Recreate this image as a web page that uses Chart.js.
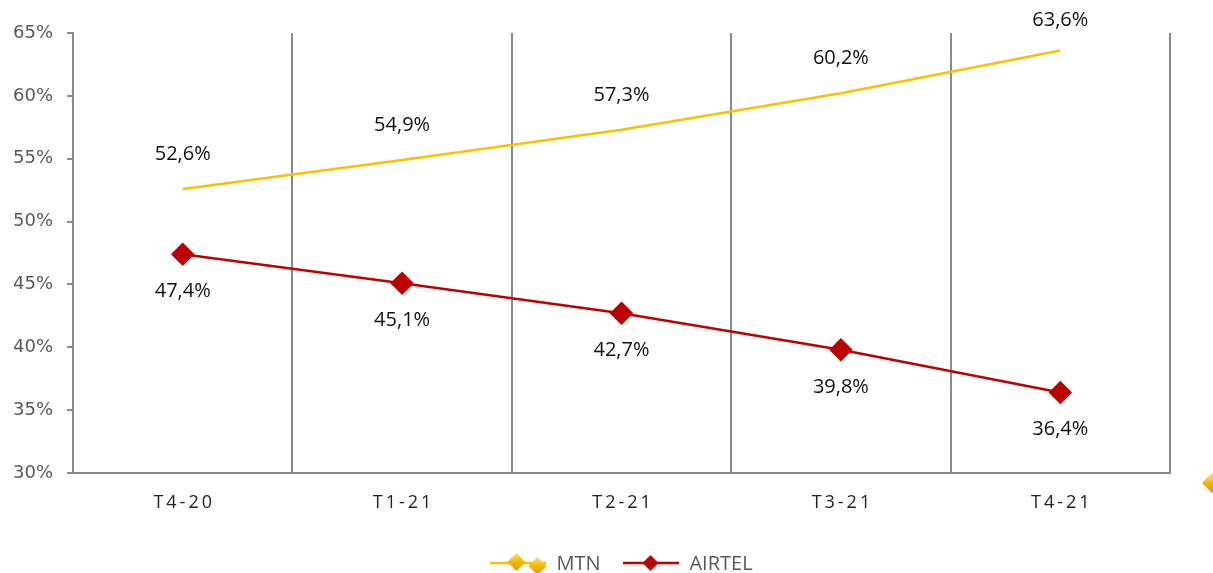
<!DOCTYPE html>
<html>
<head>
<meta charset="utf-8">
<script src="https://cdn.jsdelivr.net/npm/chart.js@4/dist/chart.umd.min.js"></script>
<style>
  html, body { margin: 0; padding: 0; background: #fff; }
  #wrap { width: 1213px; height: 573px; }
</style>
</head>
<body>
<div id="wrap"><canvas id="share-chart"></canvas></div>
<script>
var quarters = ['T4-20', 'T1-21', 'T2-21', 'T3-21', 'T4-21'];
var mtnShare = [52.6, 54.9, 57.3, 60.2, 63.6];
var airtelShare = [47.4, 45.1, 42.7, 39.8, 36.4];
var yTicks = [30, 35, 40, 45, 50, 55, 60, 65];

var YELLOW = '#FFC000';
var RED = '#C00000';
var GRID = '#8a8a8a';

function fmt(v) {
    return v.toFixed(1).replace('.', ',') + '%'; // comma decimal like the source
}

function goldDiamond(ctx, x, y, r) {
    var g = ctx.createLinearGradient(x, y - r, x, y + r);
    g.addColorStop(0, '#FFE45C');
    g.addColorStop(0.5, '#F5B800');
    g.addColorStop(1, '#D89A00');
    ctx.fillStyle = g;
    ctx.beginPath();
    ctx.moveTo(x, y - r);
    ctx.lineTo(x + r, y);
    ctx.lineTo(x, y + r);
    ctx.lineTo(x - r, y);
    ctx.closePath();
    ctx.fill();
}

// legend symbols: line with diamond(s)
function legendSymbol(kind) {
    var c = document.createElement('canvas');
    c.width = 56; c.height = 26;
    var ctx = c.getContext('2d');
    ctx.lineWidth = 2.5;
    ctx.strokeStyle = kind === 'mtn' ? YELLOW : RED;
    ctx.beginPath();
    ctx.moveTo(0, 12); ctx.lineTo(56, 12);
    ctx.stroke();
    if (kind === 'mtn') {
        goldDiamond(ctx, 26, 11, 9);
        goldDiamond(ctx, 47, 15, 9);
    } else {
        ctx.fillStyle = RED;
        ctx.beginPath();
        ctx.moveTo(27, 4); ctx.lineTo(35, 12); ctx.lineTo(27, 20); ctx.lineTo(19, 12);
        ctx.closePath();
        ctx.fill();
    }
    return c;
}
var symbols = { MTN: legendSymbol('mtn'), AIRTEL: legendSymbol('airtel') };

var valueLabels = {
    id: 'valueLabels',
    afterDatasetsDraw: function (chart) {
        var ctx = chart.ctx;
        ctx.save();
        ctx.font = '20px "Open Sans"';
        ctx.fillStyle = '#111';
        ctx.textAlign = 'center';
        ctx.textBaseline = 'middle';
        chart.data.datasets.forEach(function (ds, i) {
            chart.getDatasetMeta(i).data.forEach(function (pt, j) {
                var y = ds.label === 'MTN' ? Math.max(pt.y - 35, 20) : pt.y + 37;
                ctx.fillText(fmt(ds.data[j]), pt.x, y);
            });
        });
        ctx.restore();
    },
    afterLayout: function (chart) {
        // centre the legend under the plot area and drop it a little
        var lg = chart.legend;
        var d = (chart.chartArea.left + chart.chartArea.right) / 2 - (lg.left + lg.right) / 2;
        lg.left += d; lg.right += d;
        lg.top += 11; lg.bottom += 11;
    },
    afterDraw: function (chart) {
        // stray legend marker at the right edge of the source picture
        goldDiamond(chart.ctx, 1212, 483, 10);
    }
};

var ctx = document.getElementById('share-chart').getContext('2d');
new Chart(ctx, {
    type: 'line',
    data: {
        labels: quarters,
        datasets: [{
            label: 'MTN',
            data: mtnShare,
            borderColor: YELLOW,
            borderWidth: 2.5,
            pointRadius: 0,
            tension: 0
        }, {
            label: 'AIRTEL',
            data: airtelShare,
            borderColor: RED,
            backgroundColor: RED,
            borderWidth: 2.5,
            pointStyle: 'rectRot',
            pointRadius: 10,
            pointBackgroundColor: RED,
            pointBorderColor: RED,
            tension: 0
        }]
    },
    options: {
        responsive: true,
        maintainAspectRatio: false,
        animation: false,
        layout: { padding: { left: 0, right: 43, top: 33, bottom: 0 } },
        scales: {
            x: {
                offset: true,
                grid: { offset: true, color: GRID, lineWidth: 2, drawTicks: false },
                border: { color: GRID, width: 2 },
                ticks: {
                    padding: 19,
                    color: '#222',
                    font: { family: 'Open Sans', size: 18 },
                    callback: function (v, i) { return quarters[i].split('').join('\u2009'); }
                },
                afterFit: function (s) { s.height = 47; }
            },
            y: {
                min: 30,
                max: 65,
                afterBuildTicks: function (s) { s.ticks = yTicks.map(function (v) { return { value: v }; }); },
                grid: { drawOnChartArea: false, color: GRID, lineWidth: 2, tickLength: 6 },
                border: { color: GRID, width: 2 },
                ticks: {
                    padding: 14,
                    color: '#595959',
                    font: { family: 'DejaVu Sans', size: 18 },
                    callback: function (v) { return v + '%'; }
                },
                afterFit: function (s) { s.width = 73; }
            }
        },
        plugins: {
            legend: {
                position: 'bottom',
                labels: {
                    usePointStyle: true,
                    pointStyleWidth: 56,
                    padding: 23,
                    color: '#595959',
                    font: { family: 'Open Sans', size: 20 },
                    generateLabels: function (chart) {
                        return chart.data.datasets.map(function (ds, i) {
                            return {
                                text: ds.label,
                                pointStyle: symbols[ds.label],
                                fontColor: '#595959',
                                lineWidth: 0,
                                strokeStyle: 'transparent',
                                fillStyle: 'transparent',
                                datasetIndex: i
                            };
                        });
                    }
                }
            },
            tooltip: { enabled: false }
        },
        devicePixelRatio: 1
    },
    plugins: [valueLabels]
});
</script>
</body>
</html>
